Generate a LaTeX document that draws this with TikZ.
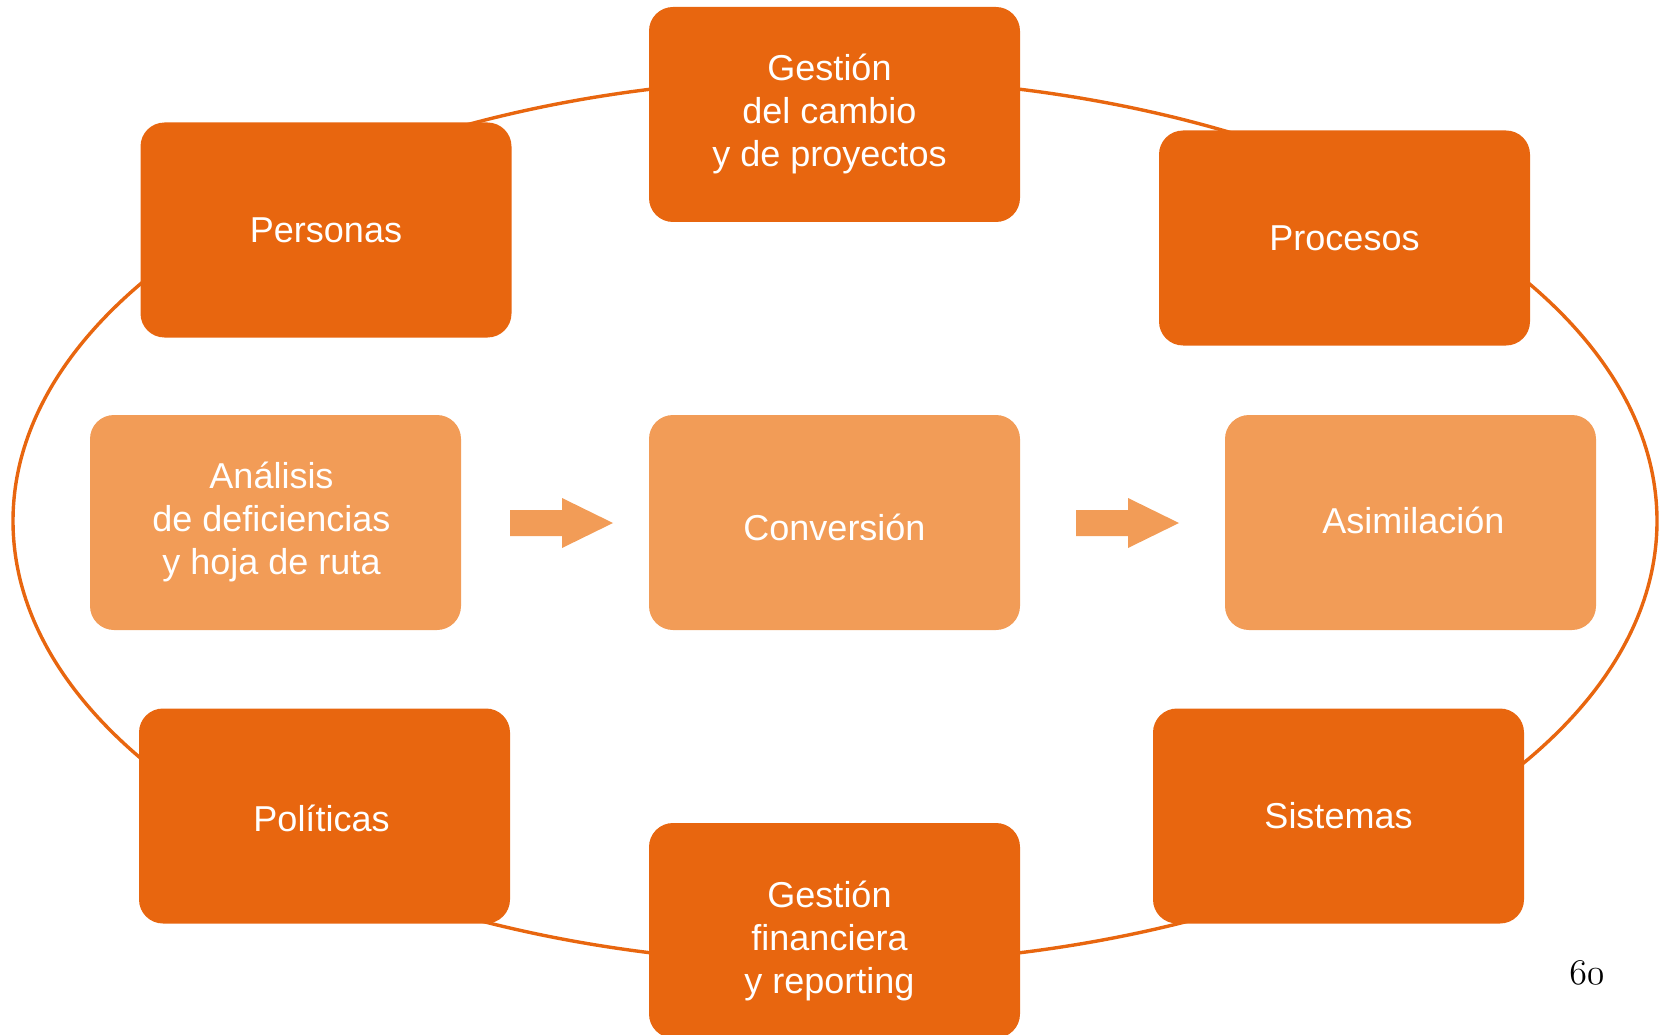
\documentclass[tikz,border=0pt]{standalone}
\usepackage{fontspec}
\usepackage{graphicx}
\setmainfont{Liberation Sans}
\definecolor{darkor}{HTML}{E8660F}
\definecolor{lightor}{HTML}{F29C57}
\newcommand{\lowerby}[2]{\raisebox{-#1}[\height][\depth]{#2}}
\begin{document}
\begin{tikzpicture}[x=1pt,y=-1pt,
  dbox/.style={fill=darkor, rounded corners=24pt, minimum width=371pt, minimum height=215pt, inner sep=0pt,
    text=white, align=center, font=\fontsize{36}{43}\selectfont},
  lbox/.style={dbox, fill=lightor},
  blockarrow/.style={fill=lightor}]
\useasboundingbox (0,0) rectangle (1666,1035);
\begin{scope}
\clip (0,0) rectangle (1666,1035);
\draw[darkor, line width=3.4pt] (835,521) ellipse [x radius=822pt, y radius=443pt];
\node[dbox] (gcambio) at (834.5,114.5) {\begin{tabular}{@{}c@{}}Gestión\\del cambio\\y de proyectos\end{tabular}\hspace*{10pt}};
\node[dbox] (personas) at (326,230) {Personas};
\node[dbox] (procesos) at (1344.5,238) {Procesos};
\node[lbox] (analisis) at (275.5,522.5) {\begin{tabular}{@{}c@{}}Análisis\\de deficiencias\\y hoja de ruta\end{tabular}\hspace*{8pt}};
\node[lbox] (conversion) at (834.5,522.5) {\lowerby{5pt}{Conversión}};
\node[lbox] (asimilacion) at (1410.5,522.5) {\hspace*{6pt}\lowerby{-2pt}{Asimilación}};
\node[dbox] (politicas) at (324.5,816) {\lowerby{2pt}{Políticas}\hspace*{6pt}};
\node[dbox] (sistemas) at (1338.5,816) {Sistemas};
\node[dbox] (gfin) at (834.5,930.5) {\lowerby{11pt}{\begin{tabular}{@{}c@{}}Gestión\\financiera\\y reporting\end{tabular}}\hspace*{10pt}};
\end{scope}
\coordinate (a1) at (510,523);
\coordinate (a2) at (1076,523);
\foreach \c in {a1,a2}{
  \fill[blockarrow] (\c) ++(0,-13) -- ++(52,0) -- ++(0,-12) -- ++(51,25) -- ++(-51,25) -- ++(0,-12) -- ++(-52,0) -- cycle;
}
\node[inner sep=0pt] (pagenum) at (1587,973) {\scalebox{1.45}{\fontencoding{OML}\fontfamily{cmm}\fontseries{m}\fontshape{it}\fontsize{24.88}{30}\selectfont 60}};
\end{tikzpicture}
\end{document}
